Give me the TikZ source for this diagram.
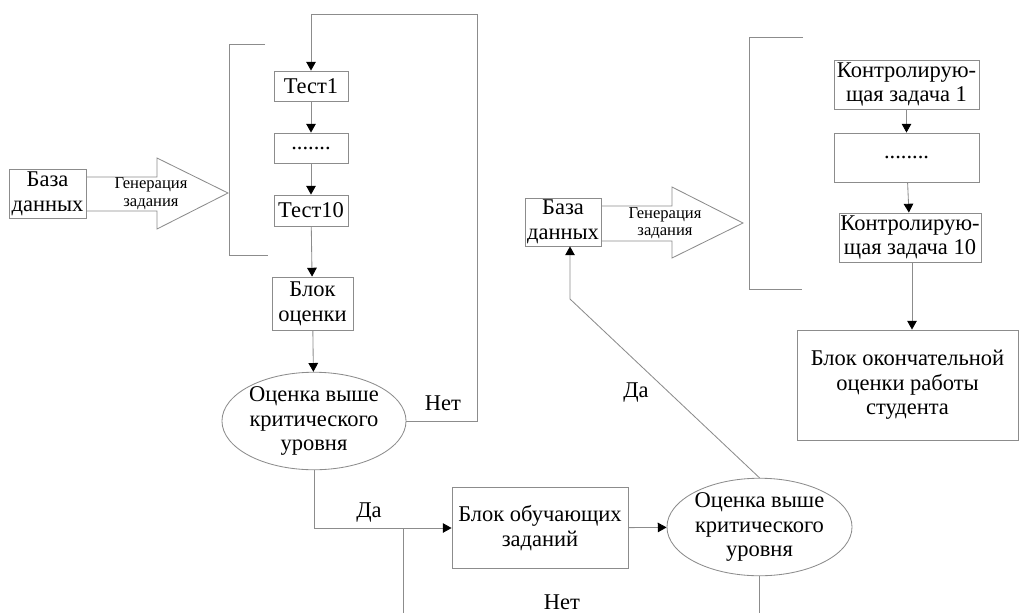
\documentclass[tikz,border=0pt]{standalone}
\usepackage{fontspec}
\setmainfont{Liberation Serif}
\usetikzlibrary{arrows.meta,shapes.geometric}

\tikzset{
  line/.style={draw=black!45, line width=0.6pt},
  box/.style={line, inner sep=0pt, align=center, font=\fontsize{16}{17.5}\selectfont},
  oval/.style={box, ellipse},
  gentext/.style={inner sep=0pt, align=center, font=\fontsize{11.8}{12.5}\selectfont},
  lbl/.style={inner sep=0pt, font=\fontsize{16}{17.5}\selectfont},
  arr/.style={line, -{Triangle[length=0.22cm,width=0.24cm,color=black]}}
}

\begin{document}
\begin{tikzpicture}[x=0.025cm, y=-0.025cm]
        \useasboundingbox (0,0) rectangle (1020,613);

        % left part
        \begin{scope}[every node/.style={box}]
          \node[minimum width=1.925cm, minimum height=1.225cm] (db1)  at (47.5,193.5) {База\\данных};
          \node[minimum width=1.85cm, minimum height=0.75cm]   (t1)   at (311,86)     {Тест1};
          \node[minimum width=1.85cm, minimum height=0.75cm]   (dots1) at (311,148)   {.......};
          \node[minimum width=1.85cm, minimum height=0.775cm]  (t10)  at (311,210.5)  {Тест10};
          \node[minimum width=2.025cm, minimum height=1.325cm] (est1) at (312.5,303.5) {Блок\\оценки};
          \node[minimum width=4.4cm, minimum height=2.025cm]   (learn) at (540,528)   {Блок обучающих\\заданий};
        \end{scope}

        % right part
        \begin{scope}[every node/.style={box}]
          \node[minimum width=1.9cm, minimum height=1.2cm]     (db2)  at (563,222)    {База\\данных};
          \node[minimum width=3.625cm, minimum height=1.225cm] (k1)   at (906.5,84.5) {Контролирую-\\щая задача 1};
          \node[minimum width=3.625cm, minimum height=1.225cm] (kdots) at (906.5,157.5) {........};
          \node[minimum width=3.55cm, minimum height=1.225cm]  (k10)  at (910,237.5)  {Контролирую-\\щая задача 10};
          \node[minimum width=5.525cm, minimum height=2.75cm]  (final) at (907.5,385) {Блок окончательной\\оценки работы\\студента};
        \end{scope}

        \begin{scope}[every node/.style={oval}]
          \node[minimum width=4.6cm, minimum height=2.2cm]   (ell1) at (314,421)   {Оценка выше\\критического\\уровня};
          \node[minimum width=4.625cm, minimum height=2.25cm] (ell2) at (759.5,527) {Оценка выше\\критического\\уровня};
        \end{scope}

        % generation arrows and brackets
        \draw[line] (86,177) -- (157,177) -- (157,158) -- (228,193) -- (157,229) -- (157,211) -- (86,211);
        \node[gentext] (gen1) at (151,193.5) {Генерация\\задания};
        \draw[line] (601,206) -- (672,206) -- (672,187) -- (743,223) -- (672,258) -- (672,241) -- (601,241);
        \node[gentext] (gen2) at (665,223) {Генерация\\задания};

        \draw[line] (265,44) -- (229,44) -- (229,255) -- (268,255);
        \draw[line] (803,37) -- (749,37) -- (749,289) -- (802,289);

        % labels
        \begin{scope}[every node/.style={lbl}]
          \node (no1)  at (443,403) {Нет};
          \node (yes1) at (369,513) {Да};
          \node (no2)  at (562,602) {Нет};
          \node (yes2) at (636,393) {Да};
        \end{scope}

        \coordinate (loop)  at (477,14);
        \coordinate (jn)    at (403,528);
        \coordinate (jnend) at (403,613);
        \coordinate (turn)  at (570,299);
        \coordinate (e2end) at (759.5,613);

        \begin{scope}[every edge/.style={arr}]
          \path (t1)    edge (dots1);
          \path (dots1) edge (t10);
          \path (t10)   edge (est1);
          \path (est1)  edge (ell1);
          \path (learn) edge (ell2);
          \path (k1)    edge (kdots);
          \path (kdots) edge (k10);
          \path (k10.south -| 912,0) edge (final.north -| 912,0);
        \end{scope}

        \draw[arr] (ell1.east) -| (loop) -| (t1.north);
        \draw[arr] (ell1.south) |- (learn.west);
        \draw[line] (jn) -- (jnend);
        \draw[line] (ell2.south) -- (e2end);
        \draw[arr] (ell2.north) -- (turn) -- (turn |- db2.south);

      \end{tikzpicture}
\end{document}
